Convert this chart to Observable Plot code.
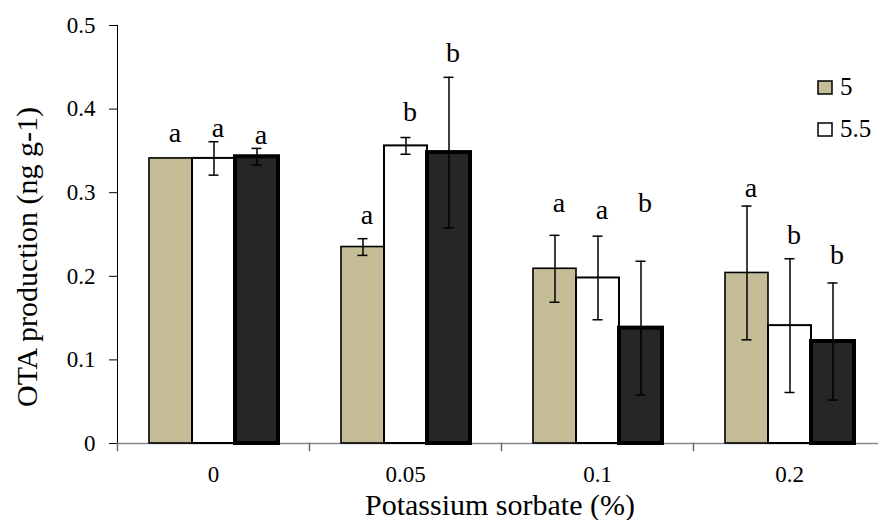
<!DOCTYPE html>
<html>
<head>
<meta charset="utf-8">
<script src="https://cdn.jsdelivr.net/npm/d3@7"></script>
<script src="https://cdn.jsdelivr.net/npm/@observablehq/plot@0.6"></script>
<style>
  html, body { margin: 0; padding: 0; background: #fff; overflow: hidden; }
</style>
</head>
<body>
<div id="chart"></div>
<script>
// ---- data ----
const categories = ["0", "0.05", "0.1", "0.2"];
const series = ["5", "5.5", "6"];
const legendSeries = ["5", "5.5"];
const colors = ["#C4BD97", "#FFFFFF", "#262626"];
const yTicks = [0, 0.1, 0.2, 0.3, 0.4, 0.5];

const mean5  = [0.341, 0.235, 0.209, 0.204];
const mean55 = [0.341, 0.356, 0.198, 0.141];
const mean6  = [0.343, 0.348, 0.138, 0.122];

const err5  = [0,     0.010, 0.040, 0.080];
const err55 = [0.020, 0.010, 0.050, 0.080];
const err6  = [0.010, 0.090, 0.080, 0.070];

const letters5  = ["a", "a", "a", "a"];
const letters55 = ["a", "b", "a", "b"];
const letters6  = ["a", "b", "b", "b"];

const letterY5  = [0.371, 0.273, 0.288, 0.305];
const letterY55 = [0.377, 0.396, 0.279, 0.249];
const letterY6  = [0.369, 0.467, 0.288, 0.225];

const xTitle = "Potassium sorbate (%)";
const yTitle = "OTA production (ng g-1)";

// ---- table ----
const means = [mean5, mean55, mean6];
const errs = [err5, err55, err6];
const letters = [letters5, letters55, letters6];
const letterYs = [letterY5, letterY55, letterY6];
const rows = [];
categories.forEach((c, i) => series.forEach((s, j) => rows.push({
  cat: c, ser: s, v: means[j][i], e: errs[j][i], letter: letters[j][i], ly: letterYs[j][i]
})));

const font = "'Liberation Serif', 'Times New Roman', serif";

const barStyle = {"5": 1.6, "5.5": 2, "6": 4};

const plot = Plot.plot({
  width: 878,
  height: 520,
  marginLeft: 117,
  marginRight: -7,
  marginTop: 25,
  marginBottom: 77,
  style: {fontFamily: font, fontSize: "23px", color: "#000", background: "#fff"},
  facet: {data: rows, x: "cat"},
  fx: {domain: categories, padding: 0, label: null, tickSize: 0, tickPadding: 22},
  x: {domain: series, paddingInner: 0, paddingOuter: 0.73, axis: null},
  y: {domain: [0, 0.5], ticks: yTicks, tickFormat: d => String(d), tickSize: 8, tickPadding: 14, label: null, line: true},
  color: {domain: series, range: colors},
  marks: [
    Plot.ruleY([0], {stroke: "#8a8a8a", strokeWidth: 1.5}),
    Plot.frame({anchor: "left", insetTop: 418, insetBottom: -7, stroke: "#6b6b6b", strokeWidth: 1.5}),
    ...series.map(s => Plot.barY(rows, {
      filter: d => d.ser === s, x: "ser", y: "v", fill: "ser",
      stroke: "#000", strokeWidth: barStyle[s]
    })),
    Plot.ruleX(rows, {filter: d => d.e > 0, x: "ser", y1: d => d.v - d.e, y2: d => d.v + d.e, stroke: "#000", strokeWidth: 1.5}),
    Plot.tickY(rows, {filter: d => d.e > 0, x: "ser", y: d => d.v + d.e, insetLeft: 16.5, insetRight: 16.5, stroke: "#000", strokeWidth: 1.5}),
    Plot.tickY(rows, {filter: d => d.e > 0, x: "ser", y: d => d.v - d.e, insetLeft: 16.5, insetRight: 16.5, stroke: "#000", strokeWidth: 1.5}),
    Plot.text(rows, {x: "ser", y: "ly", text: "letter", dx: 4, fontSize: 28, fill: "#000"})
  ]
});

// axis titles and legend
const svg = d3.select(plot);
svg.append("text")
  .attr("x", 500).attr("y", 515)
  .attr("text-anchor", "middle")
  .style("font-family", font).style("font-size", "30px").attr("fill", "#000")
  .text(xTitle);
svg.append("text")
  .attr("transform", "translate(37,257) rotate(-90)")
  .attr("text-anchor", "middle")
  .style("font-family", font).style("font-size", "30px").attr("fill", "#000")
  .text(yTitle);

const color = plot.scale("color");
const lg = svg.append("g").attr("text-anchor", "start");
legendSeries.forEach((s, i) => {
  const idx = color.domain.indexOf(s);
  lg.append("rect")
    .attr("x", 818).attr("y", 81 + i * 42).attr("width", 14).attr("height", 13)
    .attr("fill", color.range[idx]).attr("stroke", "#000").attr("stroke-width", 1.5);
  lg.append("text")
    .attr("x", 840).attr("y", 95 + i * 42)
    .attr("text-anchor", "start")
    .style("font-family", font).style("font-size", "25px").attr("fill", "#000")
    .text(s);
});

document.getElementById("chart").appendChild(plot);
</script>
</body>
</html>
